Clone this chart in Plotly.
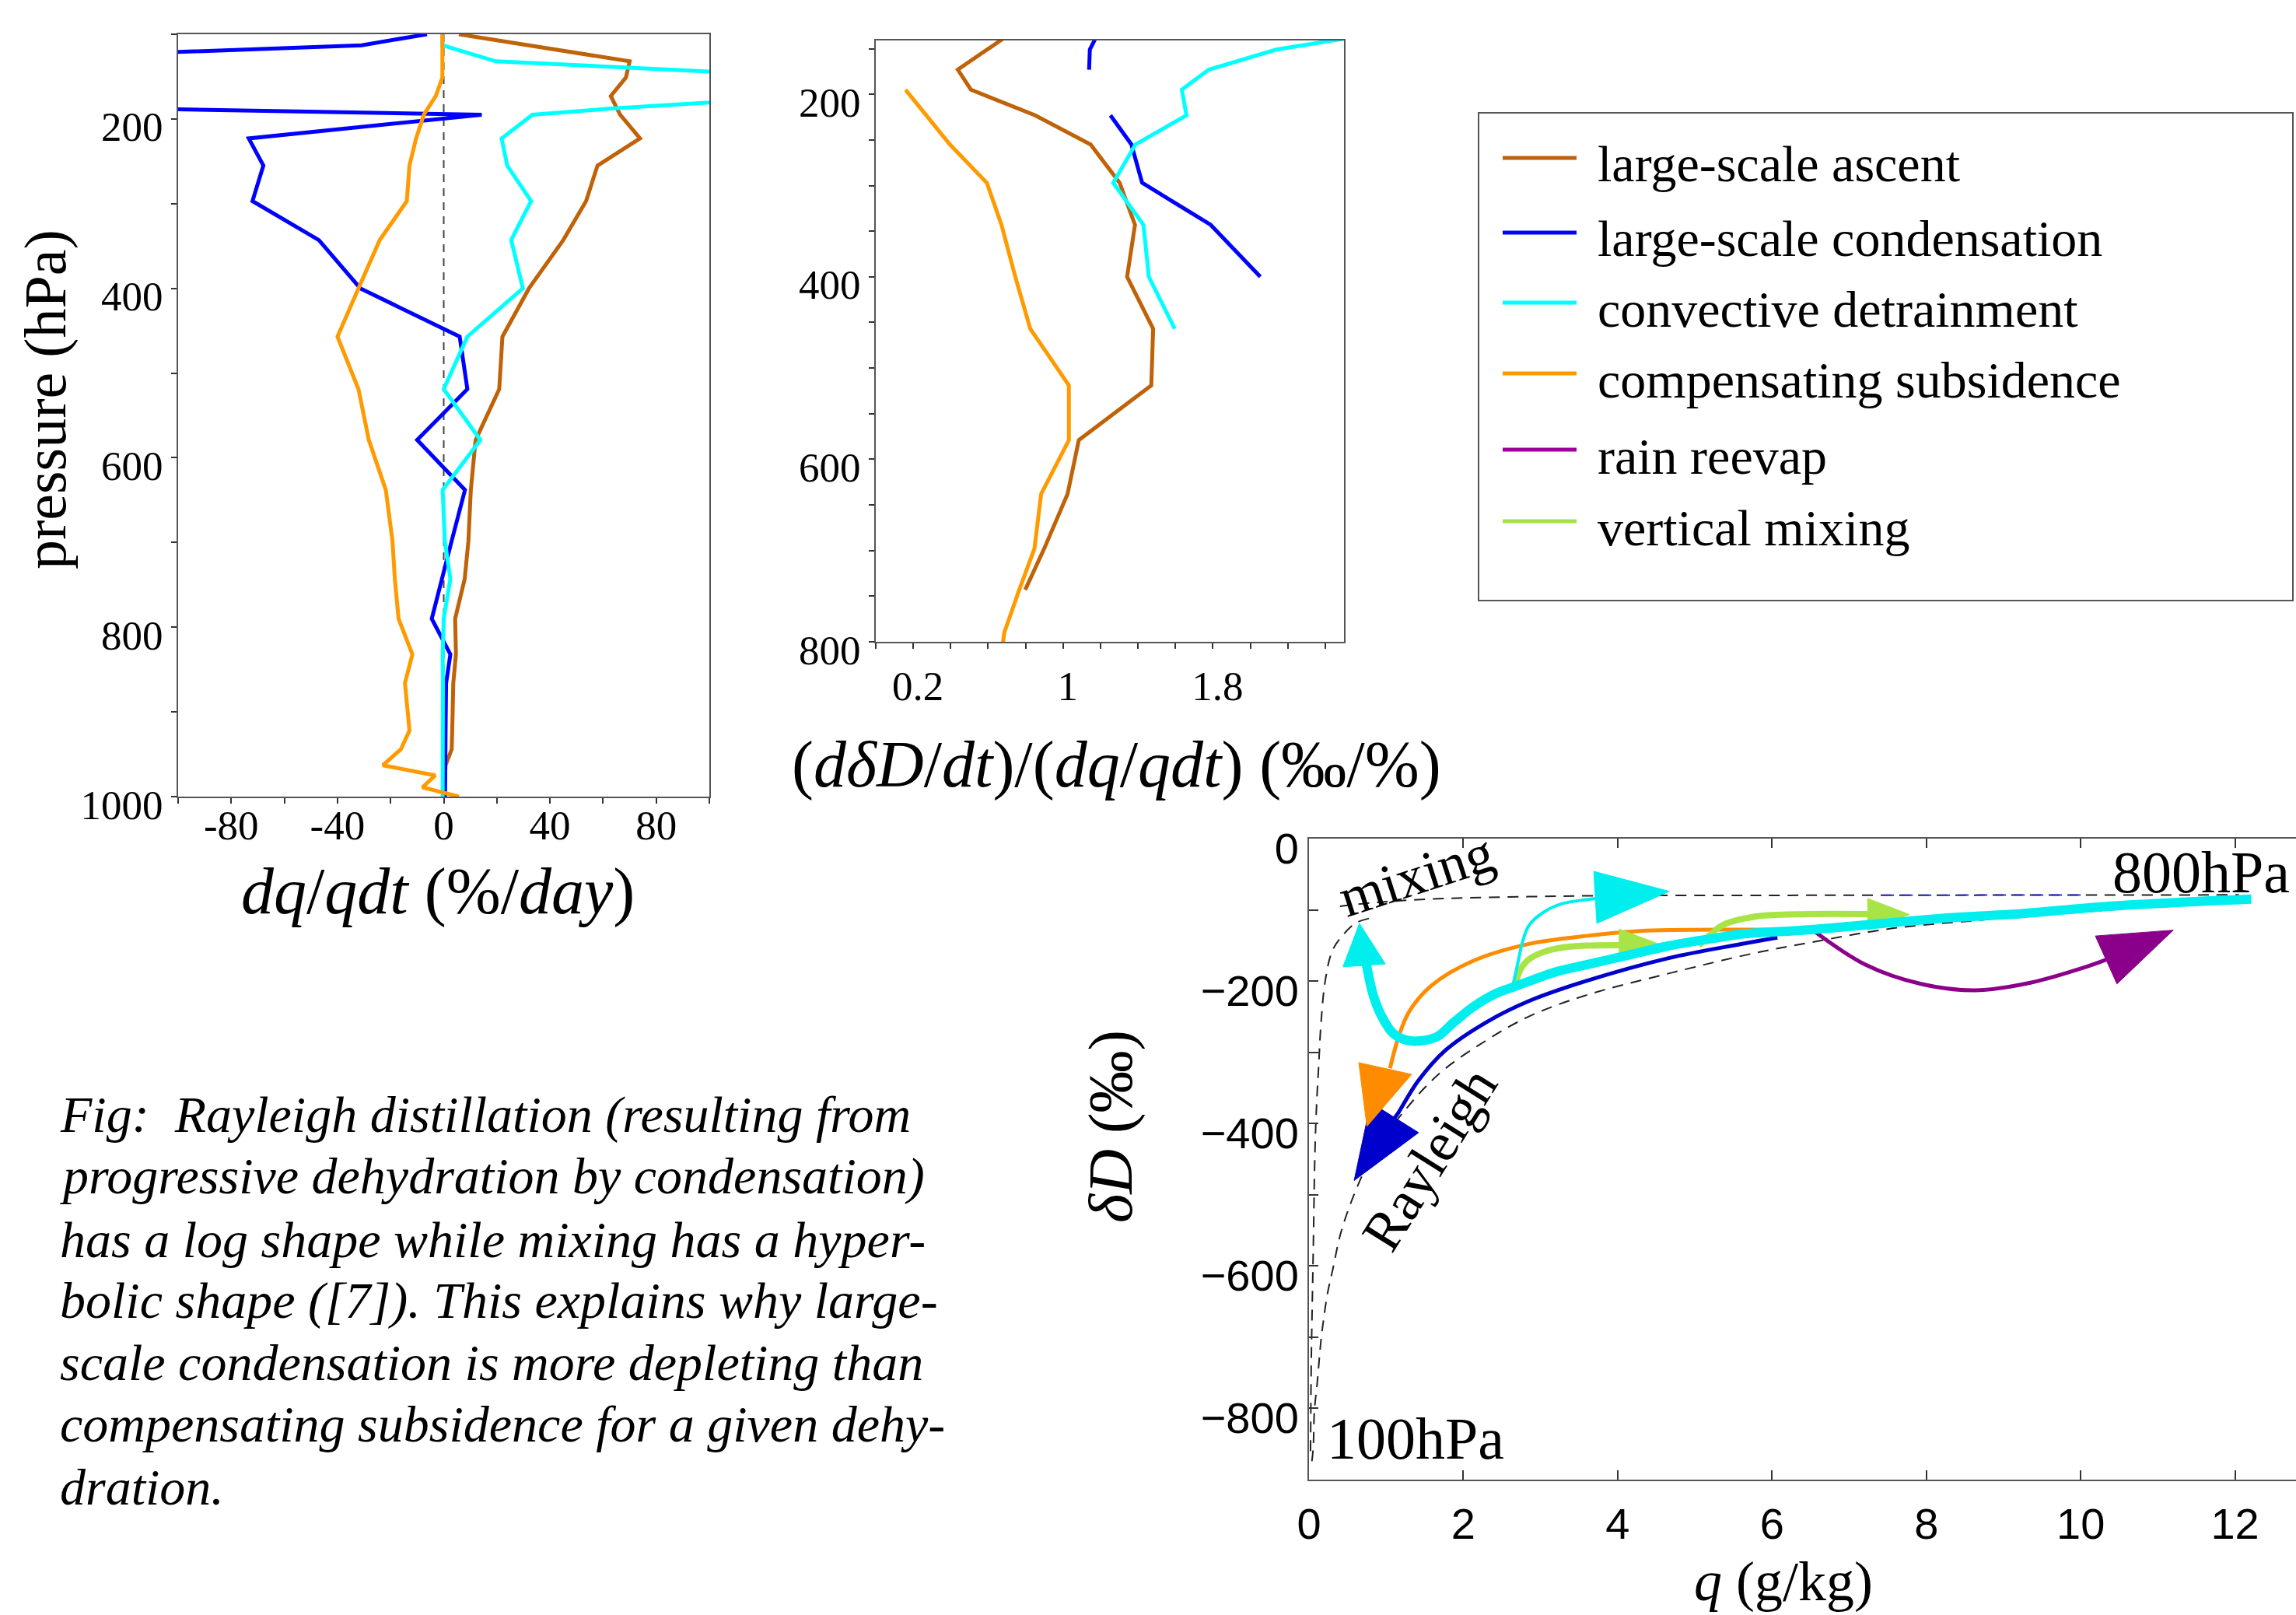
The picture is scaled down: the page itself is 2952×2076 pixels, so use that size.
import plotly.graph_objects as go

W, H = 2952, 2076

# ---------------- Panel 1 & 2 data : pressure levels (hPa) ----------------
P = [100, 113, 132, 151, 173, 188, 195, 223, 255, 297, 343, 400, 457, 519, 579,
     638, 698, 743, 790, 832, 866, 922, 944, 963, 975, 989, 1000]

# dq/qdt (%/day)
asc_rate = [5.7, 32, 70, 68.6, 62.9, 65.3, 66.4, 73.9, 57.9, 53.6, 45, 32.1, 22.1, 20.9, 12,
            10.2, 9.3, 7.9, 4.3, 4.6, 3.6, 3.2, 3.0, 0.7, 0.5, 0.2, 0.0]
cond_rate = [-6.3, -30.9, -195, -300, -300, -110, 14.3, -73.4, -67.9, -72, -47, -31.4, 6, 8.9, -10,
             8, 3, -0.5, -4.5, 2.5, 0.9, 0.7, 0.6, 0.5, 0.5, 0.5, 0.5]
detr_rate = [-0.5, -0.5, 19.6, 147, 140, 62, 33.4, 21.8, 23.9, 32.9, 25.4, 29.8, 8.9, 0, 13.8,
             -0.4, 0.4, 2.5, 0, -0.4, -0.3, -0.3, -0.3, -0.3, -0.3, -0.3, -0.4]
subs_rate = [-0.5, -0.5, -0.5, -0.5, -3, -6.3, -7.5, -10.4, -12.9, -13.9, -24.1, -32.1, -40, -32.1, -28.2,
             -21.8, -19.3, -18.4, -17, -11.8, -14.6, -12.9, -16.1, -22.9, -3.2, -8, 5.7]
zero_x = [0, 0]
zero_y = [100, 1000]

# (d dD/dt)/(dq/qdt) (permil/%)
asc_ratio = [None, None, 0.73, 0.595, 0.438, 0.486, 0.508, 0.851, 1.147, 1.302, 1.384, 1.342, 1.481, 1.471, 1.084,
             1.024, 0.899, 0.798, None, None, None, None, None, None, None, None, None]
cond_ratio = [None, None, 1.19, 1.143, 1.139, None, None, 1.253, 1.365, 1.422, 1.788, 2.053, None, None, None,
              None, None, None, None, None, None, None, None, None, None, None, None]
detr_ratio = [None, None, 2.71, 2.138, 1.778, 1.68, 1.634, 1.659, 1.386, 1.268, 1.429, 1.458, 1.596, None, None,
              None, None, None, None, None, None, None, None, None, None, None, None]
subs_ratio = [None, None, None, None, None, None, 0.159, 0.27, 0.396, 0.593, 0.671, 0.745, 0.825, 1.031, 1.031,
              0.883, 0.847, 0.766, 0.686, 0.66, None, None, None, None, None, None, None]

# ---------------- Panel 3 data : q (g/kg) vs dD (permil) ----------------
ray_q = [12.2, 10.31, 9.35, 8.63, 7.56, 6.49, 5.78, 4.71, 3.57, 2.85, 2.31, 1.77, 1.48, 1.11, 0.877,
         0.709, 0.54, 0.406, 0.306, 0.239, 0.188, 0.155, 0.104, 0.07, 0.054, 0.03]
ray_d = [-83, -100.6, -108, -115, -126, -146, -160.6, -188, -220.6, -249.7, -282.5, -322.5, -352, -399, -431,
         -468, -512, -556, -606, -639, -676, -705, -767, -803, -857, -880]
mix1_q = [0.40, 0.87, 1.77, 2.85, 3.93, 5.62, 7.0, 9.0, 12.05]
mix1_d = [-95, -89.6, -84, -81.5, -80, -79.7, -79.5, -79.3, -79]
mixb_q = [7.44, 10.0]
mixb_d = [-79.4, -79.2]
mix2_q = [0.02, 0.03, 0.054, 0.077, 0.1, 0.125, 0.155, 0.21, 0.3, 0.42, 0.6, 0.78]
mix2_d = [-860, -730, -585, -440, -370, -320, -260, -200, -158, -138, -119, -112]

detr_q = [12.21, 10.36, 9.16, 8.31, 6.51, 5.6, 5.36, 5.0, 4.64, 4.28, 3.92, 3.56, 3.2, 2.91, 2.63,
          2.41, 2.13, 1.876, 1.66, 1.446, 1.266, 1.087, 0.94, 0.833, 0.743]
detr_d = [-85, -95, -106, -111, -127.7, -134, -138, -144, -151, -160, -169, -178, -187, -198, -209,
          -218, -236, -258, -278, -284, -283, -273, -249, -220, -176]
detr2_q = [2.635, 2.71, 2.76, 2.85, 3.03, 3.28, 3.57, 3.71]
detr2_d = [-209.7, -173, -147.8, -122, -104, -91.4, -86, -84]
subs_q = [6.4, 5.62, 4.29, 3.57, 2.85, 2.13, 1.59, 1.3, 1.16, 1.05]
subs_d = [-127.7, -127.8, -129.6, -136.9, -147.8, -171.5, -206, -242.5, -278.6, -322.5]
cond_q = [6.07, 5.6, 4.65, 3.57, 2.85, 2.31, 1.77, 1.41, 1.16, 1.11]
cond_d = [-139, -148, -168, -200.6, -228, -257, -297, -340.8, -384.5, -392]
vmix1_q = [2.67, 2.74, 2.85, 3.1, 3.39, 4.02]
vmix1_d = [-206, -184, -169.5, -157, -151.5, -149.6]
vmix2_q = [5.05, 5.2, 5.35, 5.78, 6.49, 7.24]
vmix2_d = [-150, -135, -122, -109.5, -106, -106]
reev_q = [6.52, 7.21, 7.93, 8.64, 9.36, 10.07, 10.33]
reev_d = [-127.7, -176.9, -204, -213, -202, -180, -170]

# arrow heads: (tip, base1, base2) in (q, dD)
head_detr = [(0.654, -119), (0.44, -180), (0.99, -176)]
head_detr2 = [(4.67, -74), (3.69, -46), (3.73, -119)]
head_subs = [(0.75, -404), (0.645, -314.5), (1.33, -331)]
head_cond = [(0.585, -480), (0.8, -370.6), (1.42, -412.8)]
head_vmix1 = [(4.56, -149), (4.02, -127), (4.02, -162)]
head_vmix2 = [(7.78, -106.5), (7.24, -84), (7.24, -129)]
head_reev = [(11.2, -128.5), (10.19, -136.7), (10.47, -204)]

legend_labels = ["large-scale ascent", "large-scale condensation", "convective detrainment",
                 "compensating subsidence", "rain reevap", "vertical mixing"]
legend_colors = ["#C0600A", "#0000FF", "#00FFFF", "#FF9900", "#A000A0", "#A8E04A"]

caption_lines = [
    "Fig:  Rayleigh distillation (resulting from",
    "progressive dehydration by condensation)",
    "has a log shape while mixing has a hyper-",
    "bolic shape ([7]). This explains why large-",
    "scale condensation is more depleting than",
    "compensating subsidence for a given dehy-",
    "dration.",
]

# ---------------- colours ----------------
BROWN = "#BF6208"
BLUE1 = "#0000FF"
CYAN1 = "#00FFFF"
ORANGE1 = "#FF9A00"
BLUE3 = "#0000CC"
CYAN3 = "#00EEEE"
ORANGE3 = "#FF8C00"
PURPLE = "#8B008B"
GREEN = "#A8E446"

SERIF = "Liberation Serif, Times New Roman, serif"
NARROW = "Liberation Sans Narrow, Arial Narrow, Liberation Sans, sans-serif"

fig = go.Figure()

# Panel 1
fig.add_trace(go.Scatter(x=zero_x, y=zero_y, mode="lines", xaxis="x", yaxis="y",
                         line=dict(color="#444", width=2, dash="10px,8px")))
for vals, col in [(asc_rate, BROWN), (cond_rate, BLUE1), (detr_rate, CYAN1), (subs_rate, ORANGE1)]:
    fig.add_trace(go.Scatter(x=vals, y=P, mode="lines", xaxis="x", yaxis="y",
                             line=dict(color=col, width=5)))

# Panel 2
for vals, col in [(asc_ratio, BROWN), (cond_ratio, BLUE1), (detr_ratio, CYAN1), (subs_ratio, ORANGE1)]:
    fig.add_trace(go.Scatter(x=vals, y=P, mode="lines", xaxis="x2", yaxis="y2",
                             connectgaps=False, line=dict(color=col, width=5)))

# Panel 3 reference curves
dash3 = "14px,10px"
fig.add_trace(go.Scatter(x=ray_q, y=ray_d, mode="lines", xaxis="x3", yaxis="y3", line_shape="spline",
                         line=dict(color="#222", width=2, dash=dash3)))
fig.add_trace(go.Scatter(x=mix1_q, y=mix1_d, mode="lines", xaxis="x3", yaxis="y3", line_shape="spline",
                         line=dict(color="#222", width=2, dash=dash3)))
fig.add_trace(go.Scatter(x=mix2_q, y=mix2_d, mode="lines", xaxis="x3", yaxis="y3", line_shape="spline",
                         line=dict(color="#222", width=2, dash=dash3)))
fig.add_trace(go.Scatter(x=mixb_q, y=mixb_d, mode="lines", xaxis="x3", yaxis="y3",
                         line=dict(color="#3333DD", width=2, dash=dash3)))


def add_path(q, d, col, w):
    fig.add_trace(go.Scatter(x=q, y=d, mode="lines", xaxis="x3", yaxis="y3", line_shape="spline",
                             line=dict(color=col, width=w)))


def add_head(h, col):
    xs = [h[0][0], h[1][0], h[2][0], h[0][0]]
    ys = [h[0][1], h[1][1], h[2][1], h[0][1]]
    fig.add_trace(go.Scatter(x=xs, y=ys, mode="lines", xaxis="x3", yaxis="y3", fill="toself",
                             fillcolor=col, line=dict(color=col, width=1)))


add_path(reev_q, reev_d, PURPLE, 5)
add_head(head_reev, PURPLE)
add_path(cond_q, cond_d, BLUE3, 5)
add_head(head_cond, BLUE3)
add_path(subs_q, subs_d, ORANGE3, 5)
add_head(head_subs, ORANGE3)
add_path(vmix1_q, vmix1_d, GREEN, 8)
add_head(head_vmix1, GREEN)
add_path(vmix2_q, vmix2_d, GREEN, 8)
add_head(head_vmix2, GREEN)
add_path(detr2_q, detr2_d, CYAN3, 4)
add_head(head_detr2, CYAN3)
add_path(detr_q, detr_d, CYAN3, 12)
add_head(head_detr, CYAN3)


def fx(px):
    return px / W


def fy(py):
    return 1 - py / H


axis_common = dict(showgrid=False, zeroline=False, showline=True, linecolor="#555", linewidth=2,
                   tickcolor="#333", tickwidth=2, automargin=False)

fig.update_layout(
    width=W, height=H, showlegend=False,
    paper_bgcolor="white", plot_bgcolor="white",
    margin=dict(l=0, r=0, t=0, b=0, pad=0, autoexpand=False),
    xaxis=dict(domain=[fx(229), fx(912)], range=[-100, 100], anchor="y",
               tickvals=[-80, -40, 0, 40, 80], ticktext=["-80", "-40", "0", "40", "80"],
               ticks="outside", ticklen=7, mirror=True, ticklabelstandoff=-18,
               minor=dict(dtick=20, tick0=0, ticks="outside", ticklen=7, tickcolor="#333"),
               tickfont=dict(family=SERIF, size=53, color="black"), **axis_common),
    yaxis=dict(domain=[fy(1024), fy(44)], range=[1000, 100], anchor="x",
               tickvals=[200, 400, 600, 800, 1000], ticks="outside", ticklen=7, mirror=True,
               ticklabelshift=-10,
               minor=dict(dtick=100, tick0=0, ticks="outside", ticklen=7, tickcolor="#333"),
               tickfont=dict(family=SERIF, size=53, color="black"), **axis_common),
    xaxis2=dict(domain=[fx(1126), fx(1728)], range=[0, 2.5], anchor="y2",
                tickvals=[0.2, 1, 1.8], ticktext=["0.2", "1", "1.8"],
                ticks="outside", ticklen=7, mirror=True, ticklabelstandoff=2, ticklabelshift=6,
                minor=dict(dtick=0.2, tick0=0, ticks="outside", ticklen=7, tickcolor="#333"),
                tickfont=dict(family=SERIF, size=53, color="black"), **axis_common),
    yaxis2=dict(domain=[fy(825), fy(52)], range=[800, 141], anchor="x2",
                tickvals=[200, 400, 600, 800], ticks="outside", ticklen=7, mirror=True,
                ticklabelshift=-10,
                minor=dict(dtick=50, tick0=0, ticks="outside", ticklen=7, tickcolor="#333"),
                tickfont=dict(family=SERIF, size=53, color="black"), **axis_common),
    xaxis3=dict(domain=[fx(1683), 1.0], range=[0, 12.79], anchor="y3",
                tickvals=[0, 2, 4, 6, 8, 10, 12], ticks="inside", ticklen=12, mirror="ticks",
                ticklabelstandoff=7,
                tickfont=dict(family=NARROW, size=56, color="black"), **axis_common),
    yaxis3=dict(domain=[fy(1902), fy(1078)], range=[-900, 0], anchor="x3",
                tickvals=[0, -200, -400, -600, -800],
                ticktext=["0", "\u2212200", "\u2212400", "\u2212600", "\u2212800"],
                ticks="inside", ticklen=12, ticklabelshift=12,
                minor=dict(dtick=100, tick0=0, ticks="inside", ticklen=12, tickcolor="#333"),
                tickfont=dict(family=NARROW, size=56, color="black"), **axis_common),
)

ann = []


def add_text(xp, yp, text, size, angle=0, xanchor="center", yanchor="middle"):
    ann.append(dict(x=fx(xp), y=fy(yp), xref="paper", yref="paper", text=text, textangle=angle,
                    xanchor=xanchor, yanchor=yanchor, showarrow=False,
                    font=dict(family=SERIF, size=size, color="black")))


# axis titles
add_text(58, 514, "pressure (hPa)", 76, angle=-90)
add_text(563, 1146, "<i>dq</i>/<i>qdt</i> (%/<i>day</i>)", 84)
add_text(1435, 983, "(<i>d\u03b4D</i>/<i>dt</i>)/(<i>dq</i>/<i>qdt</i>) (\u2030/%)", 84)
add_text(1428, 1448, "<i>\u03b4D</i> (\u2030)", 80, angle=-90)
add_text(2293, 2033, "<i>q</i> (g/kg)", 72)

# panel 3 labels
add_text(1821, 1125, "mixing", 72, angle=-18)
add_text(1838, 1490, "Rayleigh", 72, angle=-58)
add_text(2946, 1121, "800hPa", 76, xanchor="right")
add_text(1820, 1849, "100hPa", 76)

# legend
shapes = [dict(type="rect", xref="paper", yref="paper", x0=fx(1901), x1=fx(2948), y0=fy(772), y1=fy(145),
               line=dict(color="#555", width=2), fillcolor="rgba(0,0,0,0)")]
leg_y = [211, 307, 397, 488, 586, 678]
for lab, col, yy in zip(legend_labels, legend_colors, leg_y):
    shapes.append(dict(type="line", xref="paper", yref="paper", x0=fx(1932), x1=fx(2027),
                       y0=fy(yy - 8), y1=fy(yy - 8), line=dict(color=col, width=5)))
    add_text(2052, yy, lab, 66, xanchor="left")

# caption
cap_y = [1433, 1512, 1593, 1672, 1751, 1830, 1911]
for line, yy in zip(caption_lines, cap_y):
    add_text(75, yy, "<i>" + line + "</i>", 66, xanchor="left")

fig.update_layout(annotations=ann, shapes=shapes)
fig.write_html("out.html", config={"displayModeBar": False, "staticPlot": True},
               post_script="document.body.style.margin='0';document.body.style.overflow='hidden';")
